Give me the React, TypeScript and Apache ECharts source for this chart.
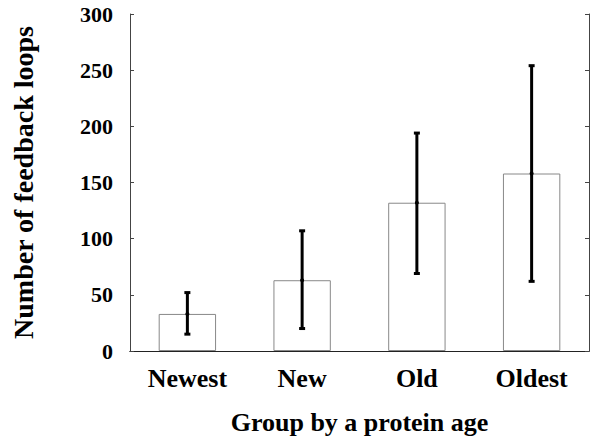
import React, { useEffect, useRef } from "react";
import * as echarts from "echarts";

const categories = ["Newest", "New", "Old", "Oldest"];
const meanValues = [33, 63, 132, 158];
const lowerValues = [15, 20, 69, 62];
const upperValues = [52, 107, 194, 254];
const yTicks = [0, 50, 100, 150, 200, 250, 300];

const FONT = "'Liberation Serif', 'Times New Roman', serif";

export default function App() {
  const ref = useRef<HTMLDivElement>(null);
  useEffect(() => {
    if (!ref.current) return;
    const chart = echarts.init(ref.current, undefined, { renderer: "svg" });
    const errData = categories.map((c, i) => [i, lowerValues[i], upperValues[i], meanValues[i]]);
    chart.setOption({
      animation: false,
      backgroundColor: "#fff",
      grid: { left: 130, right: 11, top: 14, bottom: 92 },
      xAxis: [
        {
          type: "category",
          data: categories,
          position: "bottom",
          axisLine: { lineStyle: { color: "#222", width: 1 } },
          axisTick: { inside: true, alignWithLabel: true, length: 4, lineStyle: { color: "#444" } },
          axisLabel: {
            color: "#000",
            fontFamily: FONT,
            fontWeight: "bold",
            fontSize: 26,
            margin: 14,
          },
          name: "Group by a protein age",
          nameLocation: "middle",
          nameGap: 58,
          nameTextStyle: { color: "#000", fontFamily: FONT, fontWeight: "bold", fontSize: 26 },
        },
        {
          type: "category",
          data: categories,
          position: "top",
          axisLine: { lineStyle: { color: "#222", width: 1 } },
          axisTick: { inside: true, alignWithLabel: true, length: 4, lineStyle: { color: "#444" } },
          axisLabel: { show: false },
        },
      ],
      yAxis: [
        {
          type: "value",
          min: 0,
          max: 300,
          interval: 50,
          position: "left",
          splitLine: { show: false },
          axisLine: { show: true, lineStyle: { color: "#444", width: 1 } },
          axisTick: { show: true, inside: true, length: 4, lineStyle: { color: "#444" } },
          axisLabel: {
            color: "#000",
            fontFamily: FONT,
            fontWeight: "bold",
            fontSize: 22,
            margin: 17,
            formatter: (v: number) => (yTicks.includes(v) ? String(v) : ""),
          },
          name: "Number of feedback loops",
          nameLocation: "middle",
          nameGap: 93,
          nameTextStyle: { color: "#000", fontFamily: FONT, fontWeight: "bold", fontSize: 28 },
        },
        {
          type: "value",
          min: 0,
          max: 300,
          interval: 50,
          position: "right",
          splitLine: { show: false },
          axisLine: { show: true, lineStyle: { color: "#444", width: 1 } },
          axisTick: { show: true, inside: true, length: 4, lineStyle: { color: "#444" } },
          axisLabel: { show: false },
        },
      ],
      series: [
        {
          type: "bar",
          data: meanValues,
          barWidth: "50%",
          itemStyle: { color: "#fff", borderColor: "#888", borderWidth: 1 },
        },
        {
          type: "custom",
          data: errData,
          z: 10,
          renderItem: (params: any, api: any) => {
            const x = api.value(0);
            const lo = api.coord([x, api.value(1)]);
            const hi = api.coord([x, api.value(2)]);
            const mid = api.coord([x, api.value(3)]);
            const cap = 3;
            const style = { stroke: "#000", lineWidth: 3 };
            return {
              type: "group",
              children: [
                { type: "line", shape: { x1: lo[0], y1: lo[1], x2: hi[0], y2: hi[1] }, style },
                { type: "line", shape: { x1: lo[0] - cap, y1: lo[1], x2: lo[0] + cap, y2: lo[1] }, style },
                { type: "line", shape: { x1: hi[0] - cap, y1: hi[1], x2: hi[0] + cap, y2: hi[1] }, style },
                { type: "circle", shape: { cx: mid[0], cy: mid[1], r: 2 }, style: { fill: "#000" } },
              ],
            };
          },
        },
      ],
    });
    return () => chart.dispose();
  }, []);
  return <div ref={ref} style={{ width: 600, height: 443, position: "absolute", left: 0, top: 0 }} />;
}
